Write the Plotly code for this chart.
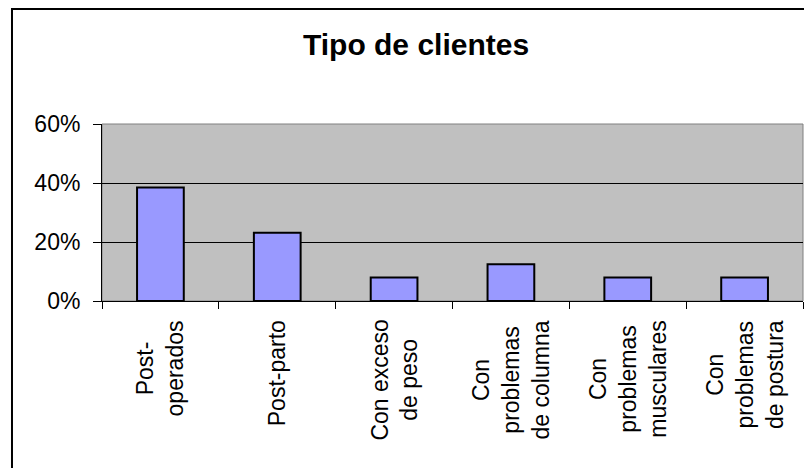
import plotly.graph_objects as go

# Client types and share of clients
categorias = [
    "Post-<br>operados",
    "Post-parto",
    "Con exceso<br>de peso",
    "Con<br>problemas<br>de columna",
    "Con<br>problemas<br>musculares",
    "Con<br>problemas<br>de postura",
]
porcentajes = [0.385, 0.231, 0.08, 0.125, 0.08, 0.08]

fuente = "Arial, Liberation Sans, sans-serif"

fig = go.Figure()

fig.add_trace(
    go.Bar(
        x=categorias,
        y=porcentajes,
        marker=dict(color="#9999FF", line=dict(color="black", width=2)),
        hoverinfo="x+y",
    )
)

# Rotated category labels, centered line by line (Excel style)
for cat in categorias:
    fig.add_annotation(
        x=cat,
        y=0,
        xref="x",
        yref="paper",
        text=cat,
        textangle=-90,
        showarrow=False,
        align="center",
        xanchor="center",
        yanchor="top",
        yshift=-17,
        font=dict(family=fuente, size=23, color="black"),
    )

# Outer chart frame (cut off at the right and bottom of the picture)
fig.add_shape(
    type="rect",
    xref="paper",
    yref="paper",
    x0=-0.1284,
    x1=1.05,
    y0=-1.1,
    y1=1.65,
    line=dict(color="black", width=2),
    fillcolor="rgba(0,0,0,0)",
    layer="below",
)

# Plot area border
fig.add_shape(
    type="rect",
    xref="paper",
    yref="paper",
    x0=0,
    x1=1,
    y0=0,
    y1=1,
    line=dict(color="#808080", width=1),
    fillcolor="rgba(0,0,0,0)",
    layer="below",
)

# the page body has an 8px margin, so the figure is 8px smaller each way
fig.update_layout(
    title=dict(
        text="<b>Tipo de clientes</b>",
        x=0.5075,
        xref="container",
        xanchor="center",
        y=0.92,
        yref="container",
        yanchor="middle",
        font=dict(family=fuente, size=30, color="black"),
    ),
    width=804,
    height=460,
    margin=dict(l=94, r=9, t=116, b=167),
    paper_bgcolor="white",
    plot_bgcolor="#C0C0C0",
    bargap=0.6,
    showlegend=False,
    font=dict(family=fuente, color="black"),
)

fig.update_xaxes(
    type="category",
    showticklabels=False,
    tickson="boundaries",
    ticks="outside",
    ticklen=7,
    tickcolor="black",
    showgrid=False,
    showline=True,
    linecolor="black",
    linewidth=1,
)

fig.update_yaxes(
    range=[0, 0.6],
    dtick=0.2,
    tickformat=".0%",
    ticks="outside",
    ticklen=8,
    tickcolor="black",
    ticklabelstandoff=8,
    tickfont=dict(family=fuente, size=23, color="black"),
    showgrid=True,
    gridcolor="black",
    gridwidth=1,
    showline=True,
    linecolor="black",
    linewidth=1,
    zeroline=False,
)

fig.write_html("out.html")
